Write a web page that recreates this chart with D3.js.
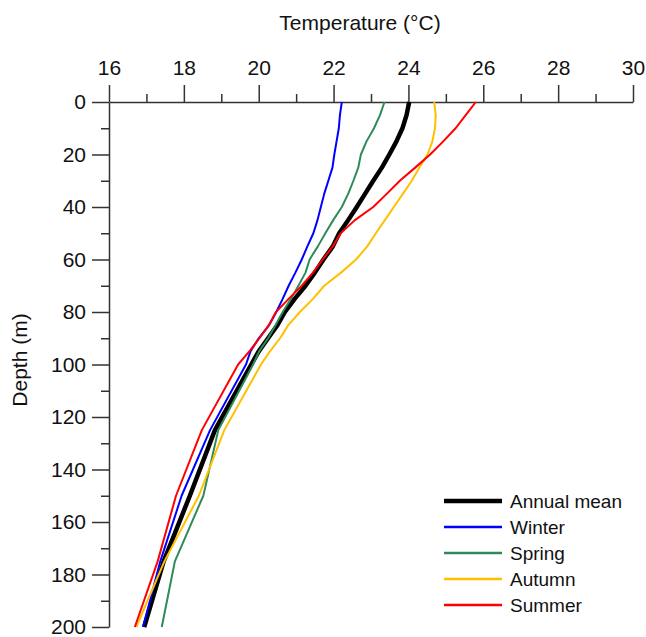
<!DOCTYPE html>
<html>
<head>
<meta charset="utf-8">
<script src="https://cdn.jsdelivr.net/npm/d3@7"></script>
<style>
  body { margin: 0; background: #fff; }
  svg { display: block; font-family: "Liberation Sans", Arial, sans-serif; }
</style>
</head>
<body>
<div id="chart"></div>
<script>
// Standard depth levels (m)
const depths = [0, 5, 10, 15, 20, 25, 30, 35, 40, 45, 50, 55, 60, 65, 70, 75, 80, 85, 90, 95, 100, 125, 150, 175, 200];

// Temperature (°C) at each depth
const annualMean = [24.02, 23.95, 23.84, 23.68, 23.49, 23.29, 23.06, 22.84, 22.62, 22.39, 22.15, 21.98, 21.73, 21.50, 21.25, 20.96, 20.70, 20.50, 20.25, 20.00, 19.80, 18.83, 18.16, 17.46, 16.94];
const winter     = [22.22, 22.17, 22.14, 22.08, 22.02, 21.97, 21.86, 21.75, 21.66, 21.57, 21.46, 21.30, 21.15, 20.98, 20.80, 20.64, 20.47, 20.28, 20.00, 19.78, 19.66, 18.70, 17.94, 17.37, 16.91];
const spring     = [23.36, 23.24, 23.08, 22.88, 22.73, 22.66, 22.53, 22.39, 22.22, 21.99, 21.78, 21.58, 21.36, 21.25, 21.06, 20.86, 20.64, 20.45, 20.25, 20.01, 19.85, 18.92, 18.52, 17.76, 17.41];
const autumn     = [24.69, 24.73, 24.71, 24.64, 24.51, 24.29, 24.09, 23.85, 23.61, 23.37, 23.13, 22.90, 22.60, 22.20, 21.75, 21.45, 21.10, 20.79, 20.57, 20.30, 20.06, 19.08, 18.40, 17.48, 16.73];
const summer     = [25.80, 25.53, 25.26, 24.93, 24.58, 24.18, 23.77, 23.42, 23.06, 22.57, 22.19, 21.98, 21.71, 21.45, 21.15, 20.80, 20.46, 20.27, 20.02, 19.75, 19.45, 18.48, 17.79, 17.30, 16.69];

const seriesNames = ["Annual mean", "Winter", "Spring", "Autumn", "Summer"];
const seriesValues = [annualMean, winter, spring, autumn, summer];
const seriesColors = ["#000000", "#0000ff", "#2e8b57", "#ffc000", "#ff0000"];
const seriesWidths = [4.5, 2, 2, 2, 2];

const tempMajorTicks = [16, 18, 20, 22, 24, 26, 28, 30];
const tempMinorTicks = [17, 19, 21, 23, 25, 27, 29];
const depthMajorTicks = [0, 20, 40, 60, 80, 100, 120, 140, 160, 180, 200];
const depthMinorTicks = [10, 30, 50, 70, 90, 110, 130, 150, 170, 190];

// Set the dimensions and margins of the graph
const W = 646, H = 637;
const margin = {top: 102, right: 13, bottom: 10, left: 109};
const width = W - margin.left - margin.right,
    height = H - margin.top - margin.bottom;

const svg = d3.select("#chart")
    .append("svg")
    .attr("width", W)
    .attr("height", H);

const g = svg.append("g")
    .attr("transform", `translate(${margin.left},${margin.top})`);

// Scales
const x = d3.scaleLinear().domain([16, 30]).range([0, width]);
const y = d3.scaleLinear().domain([0, 200]).range([0, height]);

const axisColor = "#333";

// Minor ticks first, then the major ones with labels
g.append("g")
    .attr("class", "x-minor")
    .call(d3.axisTop(x).tickValues(tempMinorTicks).tickSize(8).tickFormat(""));
g.append("g")
    .attr("class", "x-major")
    .call(d3.axisTop(x).tickValues(tempMajorTicks).tickSize(17).tickSizeOuter(0).tickPadding(10));

g.append("g")
    .attr("class", "y-minor")
    .call(d3.axisLeft(y).tickValues(depthMinorTicks).tickSize(8).tickFormat(""));
g.append("g")
    .attr("class", "y-major")
    .call(d3.axisLeft(y).tickValues(depthMajorTicks).tickSize(17).tickSizeOuter(0).tickPadding(6));

g.selectAll(".x-minor path, .y-minor path").remove();
g.selectAll(".domain, .tick line")
    .attr("stroke", axisColor)
    .attr("stroke-width", 1.5);
g.selectAll(".tick text")
    .attr("fill", "#111")
    .style("font-size", "21px");

// Axis titles
svg.append("text")
    .attr("x", 360)
    .attr("y", 30)
    .attr("text-anchor", "middle")
    .style("font-size", "21px")
    .attr("fill", "#111")
    .text("Temperature (°C)");

svg.append("text")
    .attr("transform", `translate(27,360) rotate(-90)`)
    .attr("text-anchor", "middle")
    .style("font-size", "21px")
    .attr("fill", "#111")
    .text("Depth (m)");

// Profile lines
const line = d3.line()
    .x(d => x(d.t))
    .y(d => y(d.depth));

seriesValues.forEach((vals, i) => {
    const pts = depths.map((d, j) => ({depth: d, t: vals[j]}));
    g.append("path")
        .datum(pts)
        .attr("fill", "none")
        .attr("stroke", seriesColors[i])
        .attr("stroke-width", seriesWidths[i])
        .attr("stroke-linejoin", "round")
        .attr("d", line);
});

// Legend
const legend = svg.append("g").attr("transform", "translate(444,501)");
seriesNames.forEach((name, i) => {
    const row = legend.append("g").attr("transform", `translate(0,${i * 26})`);
    row.append("line")
        .attr("x1", 0).attr("x2", 58)
        .attr("y1", 0).attr("y2", 0)
        .attr("stroke", seriesColors[i])
        .attr("stroke-width", i === 0 ? 4.5 : 2.5);
    row.append("text")
        .attr("x", 66)
        .attr("y", 0)
        .attr("dy", "0.35em")
        .style("font-size", "19px")
        .attr("fill", "#111")
        .text(name);
});
</script>
</body>
</html>
